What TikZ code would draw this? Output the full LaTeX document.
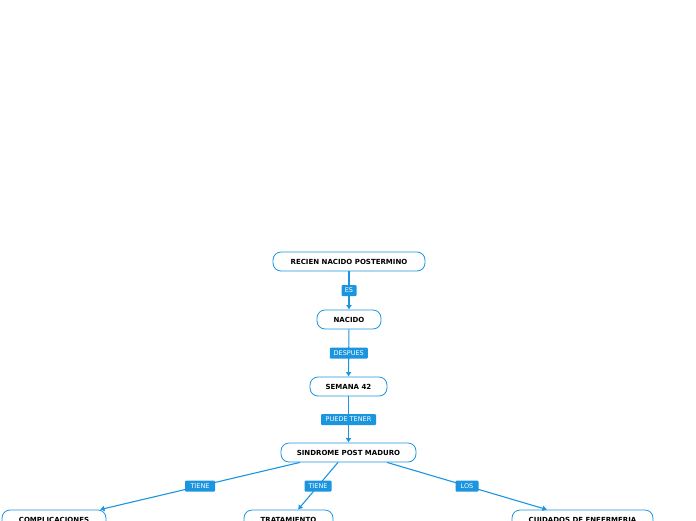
\documentclass[tikz,border=0pt]{standalone}
\usepackage{fontspec}
\newfontfamily\dejavu{DejaVu Sans}
\usetikzlibrary{arrows.meta,calc}
\definecolor{mapblue}{HTML}{1B95E0}
\begin{document}
\begin{tikzpicture}[x=1pt,y=-1pt,>={Latex[length=4.5pt,width=6pt]},line join=round,
  concept/.style={draw=mapblue,line width=.8pt,rounded corners=8pt,fill=white,minimum height=19pt,inner sep=0pt,font=\dejavu\bfseries\fontsize{7}{8}\selectfont},
  tag/.style={fill=mapblue,text=white,inner sep=0pt,rounded corners=1pt,minimum height=11pt,font=\dejavu\fontsize{6.5}{7}\selectfont},
  link/.style={draw=mapblue,line width=1.1pt,->}]
\useasboundingbox (0,0) rectangle (696,520);
\node[concept,minimum width=152pt] (rnp) at (349,261.5) {RECIEN NACIDO POSTERMINO};
\node[concept,minimum width=64pt] (nac) at (349,319.5) {NACIDO};
\node[concept,minimum width=77pt] (sem) at (348.5,386.5) {SEMANA 42};
\node[concept,minimum width=135pt] (smp) at (348.5,452.5) {SINDROME POST MADURO};
\node[concept,minimum width=104pt] (comp) at (54,519.5) {COMPLICACIONES};
\node[concept,minimum width=89pt] (trat) at (288.5,519.5) {TRATAMIENTO};
\node[concept,minimum width=141pt] (cuid) at (582.5,519.5) {CUIDADOS DE ENFERMERIA};
% enlaces
\draw[link] (rnp) -- node[tag,minimum width=15pt]{ES} (nac);
\draw[link] (nac) -- node[tag,minimum width=38pt]{DESPUES} (sem);
\draw[link] (sem) -- node[tag,minimum width=55pt]{PUEDE TENER} (smp);
\draw[link] ([xshift=-48.5pt]smp.south) -- node[tag,minimum width=30pt]{TIENE} ([xshift=46pt]comp.north);
\draw[link] ([xshift=-10.5pt]smp.south) -- node[tag,minimum width=27pt]{TIENE} ([xshift=9.5pt]trat.north);
\draw[link] ([xshift=38.5pt]smp.south) -- node[tag,minimum width=23pt]{LOS} ([xshift=-35.5pt]cuid.north);
\end{tikzpicture}
\end{document}
